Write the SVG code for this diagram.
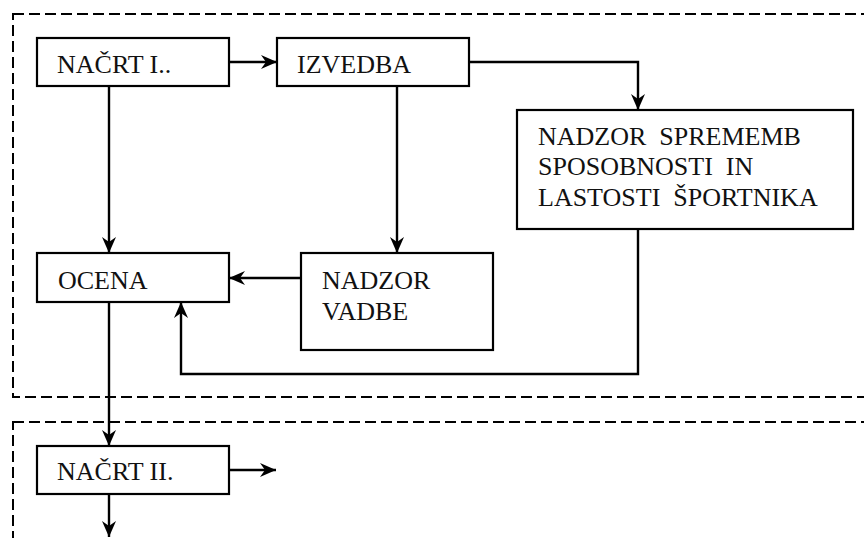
<svg xmlns="http://www.w3.org/2000/svg" width="864" height="538" viewBox="0 0 864 538">
<style>
.frame{fill:none;stroke:#000;stroke-width:2;stroke-dasharray:11 5}
.box{fill:#fff;stroke:#000;stroke-width:2.2}
.con{fill:none;stroke:#000;stroke-width:2.4}
.t{font-family:'Liberation Serif','DejaVu Serif',serif;font-size:26px;fill:#111}
</style>
<defs>
<marker id="arr" viewBox="0 0 16 14" refX="16" refY="7" markerWidth="16" markerHeight="14" markerUnits="userSpaceOnUse" orient="auto">
<path d="M0,0 L16,7 L0,14 L5,7 Z" fill="#000"/>
</marker>
</defs>
<rect class="frame" x="13" y="14" width="900" height="383"/>
<rect class="frame" x="13" y="422" width="900" height="200"/>
<g id="connectors">
<path class="con" d="M229,62 H277" marker-end="url(#arr)"/>
<path class="con" d="M469,62 H638 V110" marker-end="url(#arr)"/>
<path class="con" d="M109,86 V253" marker-end="url(#arr)"/>
<path class="con" d="M397,86 V253" marker-end="url(#arr)"/>
<path class="con" d="M301,278 H229" marker-end="url(#arr)"/>
<path class="con" d="M638,229 V374 H181 V302" marker-end="url(#arr)"/>
<path class="con" d="M109,302 V446" marker-end="url(#arr)"/>
<path class="con" d="M229,470 H276" marker-end="url(#arr)"/>
<path class="con" d="M109,494 V537" marker-end="url(#arr)"/>
</g>
<g id="nacrt1">
<rect class="box" x="37" y="38" width="192" height="48"/>
<text class="t" font-family="Liberation Serif, serif" x="57" y="73">NAČRT I..</text>
</g>
<g id="izvedba">
<rect class="box" x="277" y="38" width="192" height="48"/>
<text class="t" font-family="Liberation Serif, serif" x="297" y="73">IZVEDBA</text>
</g>
<g id="nadzor-sprememb">
<rect class="box" x="517" y="110" width="336" height="119"/>
<text class="t" font-family="Liberation Serif, serif" x="538" y="145" xml:space="preserve">NADZOR  SPREMEMB</text>
<text class="t" font-family="Liberation Serif, serif" x="538" y="175" xml:space="preserve">SPOSOBNOSTI  IN</text>
<text class="t" font-family="Liberation Serif, serif" x="538" y="206" xml:space="preserve">LASTOSTI  ŠPORTNIKA</text>
</g>
<g id="ocena">
<rect class="box" x="37" y="253" width="192" height="49"/>
<text class="t" font-family="Liberation Serif, serif" x="58" y="289">OCENA</text>
</g>
<g id="nadzor-vadbe">
<rect class="box" x="301" y="253" width="192" height="97"/>
<text class="t" font-family="Liberation Serif, serif" x="322" y="289">NADZOR</text>
<text class="t" font-family="Liberation Serif, serif" x="322" y="320">VADBE</text>
</g>
<g id="nacrt2">
<rect class="box" x="37" y="446" width="192" height="48"/>
<text class="t" font-family="Liberation Serif, serif" x="57" y="480">NAČRT II.</text>
</g>
</svg>
